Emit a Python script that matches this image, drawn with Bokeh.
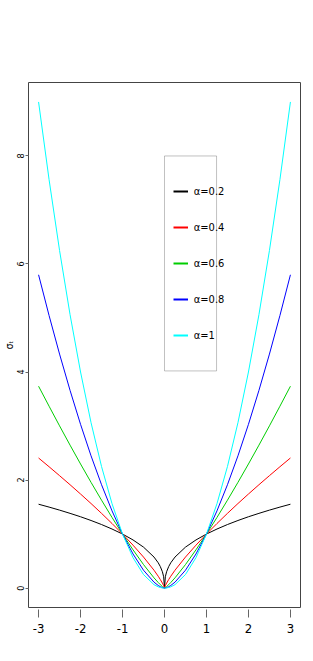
import math
from bokeh.plotting import figure
from bokeh.models import Range1d, FixedTicker, Legend, LegendItem, BoxAnnotation
from bokeh.embed import file_html
from bokeh.resources import INLINE

# x grid
x = [-3, -2.75, -2.5, -2.25, -2, -1.75, -1.5, -1.25, -1, -0.75, -0.5, -0.25, -0.15, -0.1, -0.05, -0.02,
     0, 0.02, 0.05, 0.1, 0.15, 0.25, 0.5, 0.75, 1, 1.25, 1.5, 1.75, 2, 2.25, 2.5, 2.75, 3]

y_a02 = [1.552, 1.499, 1.443, 1.383, 1.320, 1.251, 1.176, 1.093, 1.0, 0.891, 0.758, 0.574, 0.468, 0.398, 0.302, 0.209,
         0.0, 0.209, 0.302, 0.398, 0.468, 0.574, 0.758, 0.891, 1.0, 1.093, 1.176, 1.251, 1.320, 1.383, 1.443, 1.499, 1.552]
y_a04 = [2.408, 2.246, 2.081, 1.913, 1.741, 1.565, 1.383, 1.195, 1.0, 0.794, 0.574, 0.330, 0.219, 0.158, 0.091, 0.044,
         0.0, 0.044, 0.091, 0.158, 0.219, 0.330, 0.574, 0.794, 1.0, 1.195, 1.383, 1.565, 1.741, 1.913, 2.081, 2.246, 2.408]
y_a06 = [3.737, 3.367, 3.003, 2.646, 2.297, 1.957, 1.627, 1.307, 1.0, 0.708, 0.435, 0.189, 0.103, 0.063, 0.027, 0.009,
         0.0, 0.009, 0.027, 0.063, 0.103, 0.189, 0.435, 0.708, 1.0, 1.307, 1.627, 1.957, 2.297, 2.646, 3.003, 3.367, 3.737]
y_a08 = [5.800, 5.046, 4.332, 3.660, 3.031, 2.448, 1.913, 1.429, 1.0, 0.631, 0.330, 0.109, 0.048, 0.025, 0.008, 0.002,
         0.0, 0.002, 0.008, 0.025, 0.048, 0.109, 0.330, 0.631, 1.0, 1.429, 1.913, 2.448, 3.031, 3.660, 4.332, 5.046, 5.800]
y_a10 = [9.0, 7.5625, 6.25, 5.0625, 4.0, 3.0625, 2.25, 1.5625, 1.0, 0.5625, 0.25, 0.0625, 0.0225, 0.01, 0.0025, 0.0004,
         0.0, 0.0004, 0.0025, 0.01, 0.0225, 0.0625, 0.25, 0.5625, 1.0, 1.5625, 2.25, 3.0625, 4.0, 5.0625, 6.25, 7.5625, 9.0]

series = [y_a02, y_a04, y_a06, y_a08, y_a10]
labels = ["\u03b1=0.2", "\u03b1=0.4", "\u03b1=0.6", "\u03b1=0.8", "\u03b1=1"]
colors = ["black", "red", "#00CD00", "blue", "cyan"]

x_ticks = [-3, -2, -1, 0, 1, 2, 3]
x_tick_labels = ["-3", "-2", "-1", "0", "1", "2", "3"]
y_ticks = [0, 2, 4, 6, 8]
y_tick_labels = ["0", "2", "4", "6", "8"]
y_label = "\u03c3\u209c"

FONT = "DejaVu Sans Condensed"

p = figure(width=310, height=661, output_backend="svg", toolbar_location=None,
           x_range=Range1d(-3.24, 3.24), y_range=Range1d(-0.36, 9.36),
           min_border_left=24, min_border_right=10, min_border_top=82, min_border_bottom=54)
p.grid.visible = False
p.outline_line_color = "#444444"
p.outline_line_width = 1
p.background_fill_color = "white"
p.border_fill_color = "white"

items = []
for ys, c, lab in zip(series, colors, labels):
    p.line(x, ys, line_color=c, line_width=1)
    # hidden twin with a thicker stroke, used only as the legend key
    key = p.line(x, ys, line_color=c, line_width=2, visible=False)
    items.append(LegendItem(label=lab, renderers=[key]))

legend = Legend(items=items, location=(144.8, 262), padding=0, margin=0, spacing=16,
                glyph_height=20, glyph_width=15, label_standoff=6, label_height=20,
                label_text_font_size="11px", label_text_font=FONT, label_text_color="black",
                inactive_fill_alpha=0, click_policy="none",
                border_line_color=None, background_fill_alpha=0)
p.add_layout(legend)

box = BoxAnnotation(left=0.0, right=1.24, top=8.0, bottom=4.02,
                    fill_alpha=0, line_color="#333333", line_width=1)
p.add_layout(box)

# axes
p.xaxis.ticker = FixedTicker(ticks=x_ticks)
p.xaxis.major_label_overrides = {t: s for t, s in zip(x_ticks, x_tick_labels)}
p.xaxis.axis_line_color = None
p.xaxis.minor_tick_line_color = None
p.xaxis.major_tick_in = -2
p.xaxis.major_tick_out = 10
p.xaxis.major_tick_line_color = "#666666"
p.xaxis.major_label_standoff = 6
p.xaxis.major_label_text_font = FONT
p.xaxis.major_label_text_font_size = "13px"
p.xaxis.major_label_text_color = "black"

p.yaxis.ticker = FixedTicker(ticks=y_ticks)
p.yaxis.major_label_overrides = {t: s for t, s in zip(y_ticks, y_tick_labels)}
p.yaxis.axis_line_color = None
p.yaxis.minor_tick_line_color = None
p.yaxis.major_tick_in = 0
p.yaxis.major_tick_out = 3
p.yaxis.major_tick_line_color = "#666666"
p.yaxis.major_label_standoff = 1
p.yaxis.major_label_orientation = "vertical"
p.yaxis.major_label_text_font = FONT
p.yaxis.major_label_text_font_size = "9px"
p.yaxis.major_label_text_color = "black"
p.yaxis.axis_label = y_label
p.yaxis.axis_label_standoff = 0
p.yaxis.axis_label_text_font = FONT
p.yaxis.axis_label_text_font_size = "10px"
p.yaxis.axis_label_text_font_style = "normal"
p.yaxis.axis_label_text_color = "black"

open("out.html", "w").write(file_html(p, INLINE))
